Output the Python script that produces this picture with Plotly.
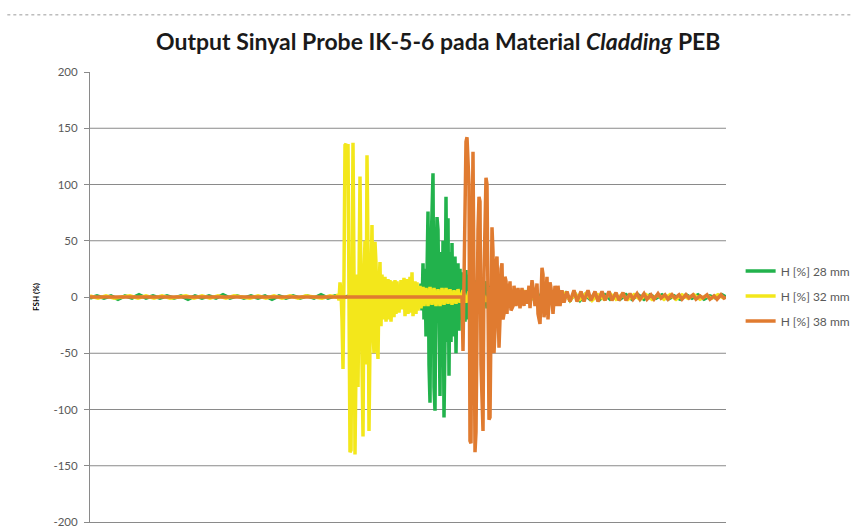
import plotly.graph_objects as go

# ---------------- data (sample index, FSH %) ----------------
y_ticks = [-200, -150, -100, -50, 0, 50, 100, 150, 200]
grid_vals = [-150, -100, -50, 0, 50, 100, 150]

series_names = ["H [%] 28 mm", "H [%] 32 mm", "H [%] 38 mm"]
series_colors = ["#22b24c", "#f3e71b", "#e07b30"]

green_pts = [
    (0, -1), (7, 1), (14, -1), (21, 1), (28, -2), (35, 1), (42, -1), (49, 2), (56, -1), (63, 1),
    (70, -1), (77, 1), (84, -1), (91, 1), (98, -2), (105, 1), (112, -1), (119, 1), (126, -1), (133, 2),
    (140, -1), (147, 1), (154, -1), (161, 1), (168, -1), (175, 1), (182, -2), (189, 1), (196, -1), (203, 1),
    (210, -1), (217, 1), (224, -1), (231, 2), (238, -1), (245, 1), (252, -1), (259, 1), (266, -2), (273, 1),
    (280, -1), (287, 1), (294, -1), (301, 1), (308, -2), (315, 1), (322, -1), (327, 1),
    (328, 2), (330, -8), (331, 12), (332, -12), (333, 30), (334, -20), (335, 25), (336, -35), (337, 50),
    (338, 76), (339, -60), (340, -94), (341, 40), (342, 95), (343, 110), (344, -80), (345, -101), (346, 30),
    (347, 71), (348, 60), (349, -70), (350, -88), (351, 40), (352, -60), (353, 50), (354, -107), (355, -40),
    (356, 89), (357, -40), (358, 70), (359, -70), (360, 40), (361, -40), (362, 48), (363, -35), (364, 30),
    (365, 36), (366, -50), (367, 20), (368, 30), (369, -30), (370, 25), (371, -20), (372, 22), (373, -25),
    (374, 18), (375, -22), (376, 24), (377, -20), (379, 20), (381, -18), (383, 16), (385, -15), (387, 15),
    (389, -14), (391, 12), (393, -12), (395, 14), (397, -10), (399, 10), (401, -8), (403, 8), (405, -6),
    (408, 5), (411, -5), (414, 5), (417, -4), (420, 5), (424, -4), (428, 4), (432, -4), (436, 5), (440, -4),
    (444, 4), (448, -3), (452, 4), (456, -4), (460, 3), (464, -3), (468, 4), (472, -3), (476, 3), (480, -3),
    (485, 3), (490, -3), (495, 2), (500, -2), (505, 3), (510, -2), (515, 2), (520, -2), (525, 2), (530, -2),
    (536, 2), (542, -2), (548, 2), (554, -2), (560, 2), (566, -1), (572, 2), (578, -2), (584, 1), (590, -2),
    (596, 2), (602, -1), (608, 2), (614, -2), (620, 1), (626, -1), (632, 2), (636, 0),
]

yellow_pts = [
    (0, 1), (8, -1), (16, 1), (24, -1), (32, 0), (40, 1), (48, -1), (56, 1), (64, -1), (72, 1),
    (80, -1), (88, 0), (96, 1), (104, -1), (112, 1), (120, -1), (128, 1), (136, -1), (144, 1), (152, 0),
    (160, -1), (168, 1), (176, -1), (184, 1), (192, -1), (200, 1), (208, -1), (216, 1), (224, 0), (232, -1),
    (240, 1), (246, 0),
    (248, 2), (249, -3), (250, 13), (251, 5), (252, -20), (253, -64), (254, 20), (255, 135), (256, 136),
    (257, 124), (258, 136), (259, 20), (260, -138), (261, -136), (262, 40), (263, 137), (264, 20), (265, -140),
    (266, -60), (267, 20), (268, -80), (269, 30), (270, 107), (271, 10), (272, -90), (273, -124), (274, 20),
    (275, 50), (276, -60), (277, 126), (278, 40), (279, -119), (280, -40), (281, 30), (282, 64), (283, -30),
    (284, -50), (285, 49), (286, 30), (287, -40), (288, -55), (289, 10), (290, 31), (291, -26), (292, 20),
    (293, -20), (295, 18), (296, -22), (298, 16), (299, -20), (300, 15), (301, -22), (303, 14), (304, -18),
    (305, 15), (306, -15), (307, 14), (309, -14), (311, 15), (312, -11), (314, 17), (315, -17), (317, 16),
    (318, -15), (320, 18), (321, -14), (322, 22), (323, -17), (325, 14), (326, -15), (327, 13), (328, -12),
    (330, 10), (331, -10), (333, 9), (334, -8), (336, 8), (338, -8), (340, 9), (342, -7), (344, 8), (346, -8),
    (348, 7), (350, -8), (352, 8), (354, -7), (356, 8), (358, -6), (360, 7), (362, -7), (364, 6), (366, -6),
    (368, 7), (370, -5), (373, 6), (376, -5), (379, 5), (382, -5), (385, 5), (388, -4), (392, 5), (396, -4),
    (400, 4), (404, -4), (408, 5), (412, -4), (416, 4), (420, -3), (425, 4), (430, -4), (435, 4), (440, -3),
    (445, 4), (450, -3), (455, 3), (460, -3), (465, 4), (470, -3), (475, 3), (480, -3), (485, 3), (490, -2),
    (496, 3), (502, -3), (508, 2), (514, -2), (520, 3), (526, -2), (532, 2), (538, -2), (544, 2), (550, -2),
    (556, 2), (562, -2), (568, 2), (574, -2), (580, 2), (586, -2), (592, 2), (598, -1), (604, 2), (610, -2),
    (616, 1), (622, -1), (628, 2), (634, -1),
]

orange_pts = [
    (0, 0), (60, 0), (120, 0), (180, 0), (240, 0), (300, 0), (360, 0), (371, 0),
    (372, 0), (373, -48), (374, 0), (375, 60), (376, 138), (377, 142), (378, 118), (379, 100), (380, -128),
    (381, -130), (382, 40), (383, 129), (384, 10), (385, -138), (386, -120), (387, 20), (388, 60), (389, 89),
    (390, 85), (391, -60), (392, -102), (393, -119), (394, 20), (395, 80), (396, 106), (397, 100), (398, -60),
    (399, -109), (400, -107), (401, 30), (402, 62), (403, 40), (404, -50), (405, -30), (406, 30), (407, 36),
    (408, -35), (409, -45), (410, -20), (411, 25), (412, 30), (413, -20), (414, -15), (415, 18), (416, 14),
    (417, -15), (418, 12), (419, -10), (420, 14), (421, -12), (423, -8), (424, 10), (426, -8), (428, 8),
    (430, -10), (432, 8), (434, -8), (435, 6), (437, -6), (439, 10), (440, -10), (442, 15), (444, 2),
    (445, -8), (447, 12), (448, -15), (450, -24), (451, 10), (452, 26), (453, 20), (454, -18), (455, -10),
    (457, 18), (458, -20), (459, -8), (460, 13), (461, 8), (463, -15), (465, 10), (467, -8), (468, 10),
    (470, -8), (472, 6), (474, -5), (477, 5), (480, -4), (484, 6), (487, -4), (491, 5), (494, -4), (498, 6),
    (501, -3), (505, 5), (508, -4), (512, 5), (515, -3), (519, 5), (522, -3), (526, 4), (529, -3), (533, 4),
    (536, -3), (540, 3), (543, -2), (547, 3), (550, -2), (554, 3), (557, -2), (561, 2), (564, -2), (568, 3),
    (571, -1), (575, 2), (578, -2), (582, 2), (585, -1), (589, 2), (592, -2), (596, 2), (599, -1), (603, 2),
    (606, -2), (610, 1), (613, -1), (617, 2), (620, -2), (624, 1), (627, -2), (631, 2), (634, -1), (636, 0),
]

title_text = "Output Sinyal Probe IK-5-6 pada Material <i>Cladding</i> PEB"
y_title = "FSH (%)"

# ---------------- figure ----------------
fig = go.Figure()
for i, (name, color, pts) in enumerate(zip(series_names, series_colors,
                                           [green_pts, yellow_pts, orange_pts])):
    fig.add_trace(go.Scatter(
        x=[p[0] for p in pts], y=[p[1] for p in pts],
        mode="lines", name=name, legendgroup=f"g{i}",
        line=dict(color=color, width=3.5),
    ))

axis_col = "#8a8a8a"
for v in grid_vals:
    fig.add_shape(type="line", xref="paper", yref="y", x0=0, x1=1, y0=v, y1=v,
                  line=dict(color=axis_col, width=1), layer="below")

# dotted border line at top of the image
fig.add_shape(type="line", xref="paper", yref="paper", x0=-0.13, x1=1.2, y0=1.127, y1=1.127,
              line=dict(color="#9a9a9a", width=1, dash="dot"))

fig.update_layout(
    width=856, height=532,
    margin=dict(l=90, r=130, t=72, b=10, autoexpand=False),
    paper_bgcolor="white", plot_bgcolor="white",
    font=dict(family="Lato, Open Sans, sans-serif", color="#595959"),
    title=dict(text=title_text, x=0.512, xanchor="center", y=0.921, yanchor="middle",
               font=dict(family="Lato", size=23, color="#1a1a1a", weight="bold")),
    showlegend=True,
    legend=dict(x=1.023, xanchor="left", y=0.59, yanchor="top",
                font=dict(size=12, color="#595959"), tracegroupgap=6,
                itemwidth=30, bgcolor="rgba(0,0,0,0)"),
    xaxis=dict(range=[0, 636], showticklabels=False, showgrid=False, zeroline=False,
               showline=True, linecolor=axis_col, linewidth=1, ticks=""),
    yaxis=dict(range=[-200, 200], tickvals=y_ticks, ticktext=[str(v) for v in y_ticks],
               showgrid=False, zeroline=False, showline=True, linecolor=axis_col, linewidth=1,
               ticks="outside", ticklen=5, tickcolor=axis_col, ticklabelstandoff=4,
               tickfont=dict(size=11.5, color="#595959"),
               title=dict(text=y_title, standoff=12,
                          font=dict(size=8, color="#000000", weight="bold"))),
)

fig.write_html("out.html", config={"displayModeBar": False},
               post_script="document.body.style.margin='0';")
